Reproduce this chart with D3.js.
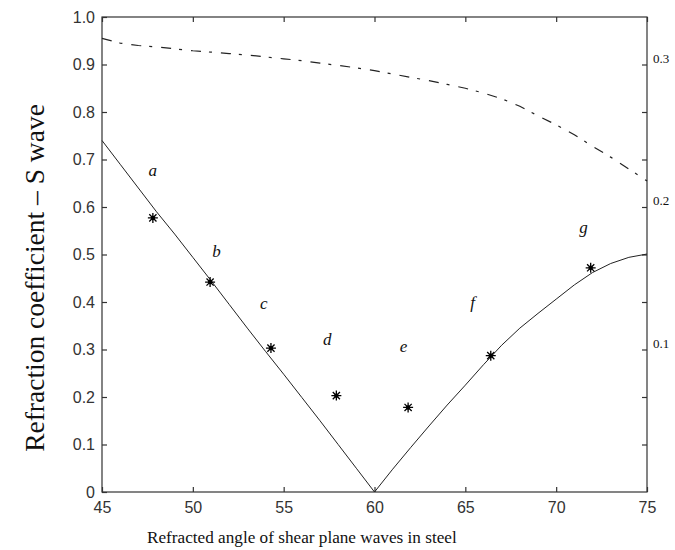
<!DOCTYPE html>
<html>
<head>
<meta charset="utf-8">
<script src="https://cdn.jsdelivr.net/npm/d3@7/dist/d3.min.js"></script>
<style>
  body { margin: 0; background: #fff; }
  svg { display: block; }
</style>
</head>
<body>
<svg id="chart" width="675" height="550"></svg>
<script>
// Refraction coefficient of S waves vs. refracted angle (steel)
const angles = [45,46,47,48,49,50,51,52,53,54,55,56,57,58,59,60,
                61,62,63,64,65,66,67,68,69,70,71,72,73,74,75];
const coefS = [0.740,0.690,0.640,0.590,0.543,0.494,0.445,0.395,0.345,0.296,0.248,0.199,0.150,0.100,0.050,0.000,
               0.048,0.094,0.139,0.183,0.225,0.268,0.309,0.345,0.376,0.406,0.436,0.462,0.481,0.494,0.501];
// second curve, read against the right-hand scale
const coefR = [0.955,0.945,0.940,0.937,0.933,0.929,0.926,0.923,0.920,0.916,0.912,0.908,0.903,0.898,0.893,0.887,
               0.880,0.873,0.866,0.858,0.850,0.840,0.828,0.812,0.792,0.773,0.752,0.728,0.705,0.680,0.655];

// measured points
const measAngle = [47.8, 50.95, 54.3, 57.9, 61.85, 66.4, 71.9];
const measCoef  = [0.577, 0.442, 0.303, 0.203, 0.178, 0.287, 0.472];

// point labels
const labelText  = ["a","b","c","d","e","f","g"];
const labelAngle = [47.8, 51.3, 53.9, 57.4, 61.6, 65.4, 71.5];
const labelCoef  = [0.665, 0.495, 0.385, 0.31, 0.295, 0.388, 0.545];

const xTicks = [45,50,55,60,65,70,75];
const yTicks = [0,0.1,0.2,0.3,0.4,0.5,0.6,0.7,0.8,0.9,1.0];
const rightTicks = [0.1,0.2,0.3];

const svg = d3.select("#chart");
const L = 102, R = 647, T = 17, B = 492;

const x = d3.scaleLinear().domain([45,75]).range([L,R]);
const y = d3.scaleLinear().domain([0,1]).range([B,T]);
const yRight = d3.scaleLinear().domain([0,1/3]).range([B,T]);

const axisColor = "#333";
const tickFont = "'Liberation Sans', Arial, sans-serif";
const serif = "'Liberation Serif', 'Times New Roman', serif";

// frame
svg.append("rect")
  .attr("x", L).attr("y", T).attr("width", R-L).attr("height", B-T)
  .attr("fill", "none").attr("stroke", axisColor).attr("stroke-width", 1.2);

// bottom axis (ticks point inward)
const gx = svg.append("g").attr("transform", `translate(0,${B})`)
  .call(d3.axisBottom(x).tickValues(xTicks).tickSizeInner(-5).tickSizeOuter(0).tickPadding(10)
        .tickFormat(d3.format("d")));
gx.select(".domain").remove();
gx.selectAll("line").attr("stroke", axisColor).attr("stroke-width", 1.2);
gx.selectAll("text").attr("font-family", tickFont).attr("font-size", 16).attr("fill", "#333");

// top axis ticks
const gxt = svg.append("g").attr("transform", `translate(0,${T})`)
  .call(d3.axisTop(x).tickValues(xTicks).tickSizeInner(-5).tickSizeOuter(0).tickFormat(""));
gxt.select(".domain").remove();
gxt.selectAll("line").attr("stroke", axisColor).attr("stroke-width", 1.2);

// left axis
const gy = svg.append("g").attr("transform", `translate(${L},0)`)
  .call(d3.axisLeft(y).tickValues(yTicks).tickSizeInner(-5).tickSizeOuter(0).tickPadding(7)
        .tickFormat(d => d === 0 ? "0" : d3.format(".1f")(d)));
gy.select(".domain").remove();
gy.selectAll("line").attr("stroke", axisColor).attr("stroke-width", 1.2);
gy.selectAll("text").attr("font-family", tickFont).attr("font-size", 16).attr("fill", "#333");

// right axis: ticks only, labels from the right-hand scale
const gyr = svg.append("g").attr("transform", `translate(${R},0)`)
  .call(d3.axisRight(y).tickValues(yTicks.slice(1,10)).tickSizeInner(-5).tickSizeOuter(0).tickFormat(""));
gyr.select(".domain").remove();
gyr.selectAll("line").attr("stroke", axisColor).attr("stroke-width", 1.2);

svg.append("g").selectAll("text").data(rightTicks).join("text")
  .attr("x", R + 6).attr("y", d => yRight(d) - 2)
  .attr("font-family", serif).attr("font-size", 13).attr("fill", "#111")
  .text(d => d3.format(".1f")(d));

// curves
const line = d3.line().x(d => x(d[0])).y(d => y(d[1]));

svg.append("path")
  .datum(angles.map((a,i) => [a, coefS[i]]))
  .attr("d", line).attr("fill", "none").attr("stroke", "#222").attr("stroke-width", 1);

svg.append("path")
  .datum(angles.map((a,i) => [a, coefR[i]]))
  .attr("d", line).attr("fill", "none").attr("stroke", "#222").attr("stroke-width", 1.2)
  .attr("stroke-dasharray", "10,8,3,9");

// star markers: "+" over "x" with a filled centre
const s = 5, sd = 3.6;
const starPath = `M${-s},0L${s},0M0,${-s}L0,${s}M${-sd},${-sd}L${sd},${sd}M${-sd},${sd}L${sd},${-sd}`;
const stars = svg.append("g").selectAll("g").data(measAngle).join("g")
  .attr("transform", (d,i) => `translate(${x(d)},${y(measCoef[i])})`);
stars.append("path").attr("d", starPath).attr("fill", "none").attr("stroke", "#000").attr("stroke-width", 1.3);
stars.append("circle").attr("r", 2.2).attr("fill", "#000");

// point labels
svg.append("g").selectAll("text").data(labelText).join("text")
  .attr("x", (d,i) => x(labelAngle[i])).attr("y", (d,i) => y(labelCoef[i]))
  .attr("text-anchor", "middle")
  .attr("font-family", serif).attr("font-style", "italic").attr("font-size", 17).attr("fill", "#111")
  .text(d => d);

// axis titles
svg.append("text")
  .attr("x", 147).attr("y", 543)
  .attr("font-family", serif).attr("font-size", 17.2).attr("fill", "#111")
  .text("Refracted angle of shear plane waves in steel");

svg.append("text")
  .attr("transform", "translate(44,278) rotate(-90)")
  .attr("text-anchor", "middle")
  .attr("font-family", serif).attr("font-size", 27.5).attr("fill", "#111")
  .text("Refraction coefficient – S wave");
</script>
</body>
</html>
